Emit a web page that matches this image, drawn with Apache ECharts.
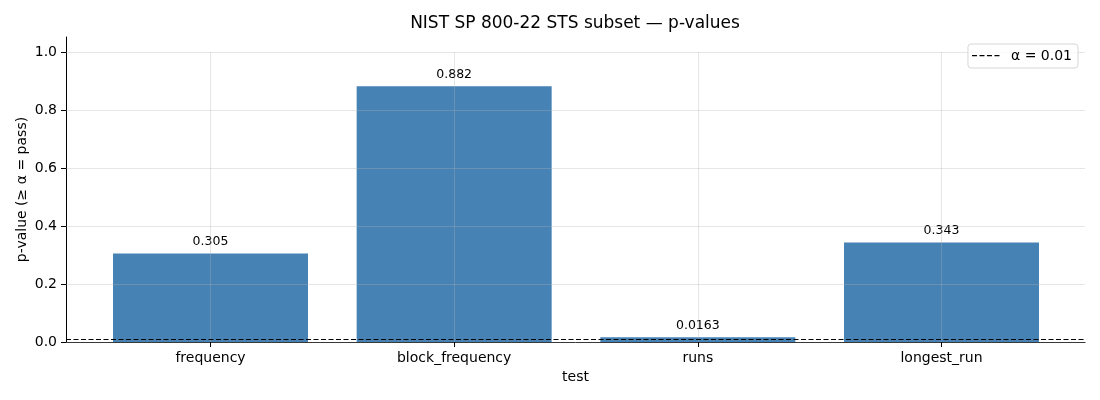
<!DOCTYPE html>
<html>
<head>
<meta charset="utf-8">
<title>NIST SP 800-22 STS subset</title>
<script src="https://cdn.jsdelivr.net/npm/echarts@6/dist/echarts.min.js"></script>
<style>
  html, body { margin: 0; padding: 0; background: #fff; }
  #chart { width: 1100px; height: 400px; }
</style>
</head>
<body>
<div id="chart"></div>
<script>
// data
const tests = ['frequency', 'block_frequency', 'runs', 'longest_run'];
const pValues = [0.305, 0.882, 0.0163, 0.343];
const alpha = 0.01;
const yTicks = [0, 0.2, 0.4, 0.6, 0.8, 1.0];

const FONT = 'DejaVu Sans';
const gridColor = 'rgba(176,176,176,0.32)';
const alphaName = 'α = ' + alpha;

// legend sample: four dashes in a 28x14 box (tiny corner specks keep the box size)
const dashIcon = 'path://M0,6h5v1.2h-5z M7.5,6h5v1.2h-5z M15,6h5v1.2h-5z M22.5,6h5v1.2h-5z' +
  ' M0,0h0.01v0.01h-0.01z M27.99,13.99h0.01v0.01h-0.01z';

const chart = echarts.init(document.getElementById('chart'), null, { renderer: 'canvas' });

// three grids: 0 = spines + alpha line, 1 = y ticks/grid, 2 = bars on category centres
const option = {
  animation: false,
  textStyle: { fontFamily: FONT, color: '#000' },
  title: {
    text: 'NIST SP 800-22 STS subset — p-values',
    left: 575,
    top: 15,
    padding: 0,
    textAlign: 'center',
    textStyle: { fontFamily: FONT, fontSize: 17, fontWeight: 'normal', color: '#000' }
  },
  legend: {
    data: [{ name: alphaName, icon: dashIcon }],
    right: 22,
    top: 44,
    padding: [5, 6, 5, 4],
    itemWidth: 28,
    itemHeight: 14,
    itemGap: 10,
    borderColor: '#d6d6d6',
    borderWidth: 1,
    borderRadius: 3,
    backgroundColor: 'rgba(255,255,255,0.8)',
    textStyle: { fontFamily: FONT, fontSize: 14, color: '#000', padding: [0, 0, 0, 6] }
  },
  grid: [
    { left: 66, right: 15, top: 37, bottom: 58 },
    { left: 66, right: 15, top: 52, bottom: 58 },
    { left: 210.5, right: 1100 - 941.5, top: 52, bottom: 58 }
  ],
  xAxis: [
    {
      gridIndex: 0, type: 'value', min: 0, max: 1,
      name: 'test', nameLocation: 'middle', nameGap: 28,
      nameTextStyle: { fontFamily: FONT, fontSize: 14, color: '#000' },
      axisLine: { show: true, lineStyle: { color: '#000', width: 1 } },
      axisTick: { show: false }, axisLabel: { show: false }, splitLine: { show: false }
    },
    { gridIndex: 1, type: 'value', min: 0, max: 1, show: false },
    {
      gridIndex: 2, type: 'category', data: tests, boundaryGap: false, z: 3,
      axisLine: { show: false },
      axisTick: { show: true, length: 5, lineStyle: { color: '#000', width: 1 } },
      axisLabel: { fontFamily: FONT, fontSize: 14, color: '#000', margin: 9 },
      splitLine: { show: true, lineStyle: { color: gridColor, width: 1 } }
    }
  ],
  yAxis: [
    {
      gridIndex: 0, type: 'value', min: 0, max: 1.05,
      name: 'p-value (≥ α = pass)', nameLocation: 'middle', nameGap: 37,
      nameTextStyle: { fontFamily: FONT, fontSize: 14, color: '#000' },
      axisLine: { show: true, lineStyle: { color: '#000', width: 1 } },
      axisTick: { show: false }, axisLabel: { show: false }, splitLine: { show: false }
    },
    {
      gridIndex: 1, type: 'value', min: yTicks[0], max: yTicks[yTicks.length - 1], interval: 0.2, z: 3,
      axisLine: { show: false },
      axisTick: { show: true, length: 5, lineStyle: { color: '#000', width: 1 } },
      axisLabel: {
        fontFamily: FONT, fontSize: 14, color: '#000', margin: 9,
        formatter: v => v.toFixed(1)
      },
      splitLine: { show: true, lineStyle: { color: gridColor, width: 1 } }
    },
    { gridIndex: 2, type: 'value', min: yTicks[0], max: yTicks[yTicks.length - 1], show: false }
  ],
  series: [
    {
      name: 'p-value',
      type: 'bar',
      xAxisIndex: 2,
      yAxisIndex: 2,
      data: pValues,
      barWidth: 195,
      clip: false,
      z: 2,
      itemStyle: { color: '#4682b4' },
      label: {
        show: true,
        position: 'top',
        distance: 5,
        fontFamily: FONT,
        fontSize: 12.5,
        color: '#000',
        formatter: p => String(Number(p.value.toPrecision(3)))
      }
    },
    {
      name: alphaName,
      type: 'line',
      xAxisIndex: 0,
      yAxisIndex: 0,
      data: [],
      symbol: 'none',
      z: 5,
      lineStyle: { color: '#000', width: 1, type: [5, 2.5] },
      itemStyle: { color: '#000' },
      markLine: {
        silent: true,
        symbol: 'none',
        label: { show: false },
        lineStyle: { color: '#000', width: 1, type: [5, 2.5] },
        data: [{ yAxis: alpha }]
      }
    }
  ]
};

chart.setOption(option);
</script>
</body>
</html>
